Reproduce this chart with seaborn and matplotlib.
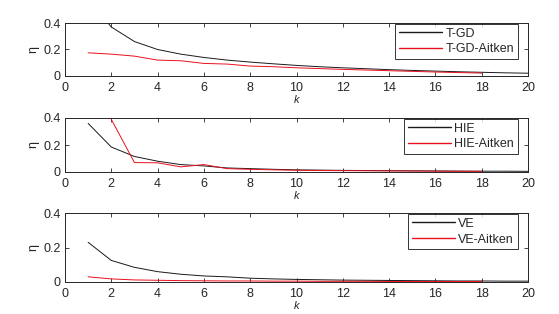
import numpy as np
import pandas as pd
import matplotlib
matplotlib.use("Agg")
import matplotlib.pyplot as plt
import seaborn as sns

k_full = list(range(1, 21))
k_aitken = list(range(1, 19))
k_hie_aitken = list(range(2, 19))

tgd = [0.58, 0.37, 0.26, 0.20, 0.165, 0.14, 0.12, 0.105, 0.092, 0.08, 0.07, 0.062,
       0.055, 0.048, 0.042, 0.037, 0.032, 0.028, 0.024, 0.021]
tgd_aitken = [0.175, 0.165, 0.15, 0.12, 0.115, 0.095, 0.09, 0.075, 0.07, 0.062, 0.056,
              0.05, 0.045, 0.04, 0.035, 0.03, 0.026, 0.022]

hie = [0.36, 0.185, 0.115, 0.08, 0.055, 0.045, 0.03, 0.025, 0.02, 0.016, 0.014, 0.012,
       0.011, 0.01, 0.009, 0.008, 0.007, 0.006, 0.006, 0.005]
hie_aitken = [0.39, 0.07, 0.068, 0.038, 0.055, 0.025, 0.02, 0.016, 0.013, 0.011, 0.01,
              0.009, 0.008, 0.007, 0.006, 0.005, 0.005]

ve = [0.23, 0.125, 0.085, 0.06, 0.045, 0.035, 0.03, 0.022, 0.018, 0.015, 0.013, 0.011,
      0.01, 0.009, 0.008, 0.007, 0.006, 0.006, 0.005, 0.005]
ve_aitken = [0.03, 0.018, 0.012, 0.01, 0.008, 0.007, 0.006, 0.006, 0.005, 0.005, 0.004,
             0.004, 0.004, 0.003, 0.003, 0.003, 0.003, 0.003]

panels = [
    ("T-GD", k_full, tgd, "T-GD-Aitken", k_aitken, tgd_aitken),
    ("HIE", k_full, hie, "HIE-Aitken", k_hie_aitken, hie_aitken),
    ("VE", k_full, ve, "VE-Aitken", k_aitken, ve_aitken),
]

sns.set_style("ticks")
plt.rcParams["font.family"] = ["Liberation Sans", "DejaVu Sans"]
plt.rcParams["xtick.direction"] = "in"
plt.rcParams["ytick.direction"] = "in"

W, H = 559, 314
fig = plt.figure(figsize=(W / 100, H / 100), dpi=100)

boxes = [(65, 23, 528, 76), (65, 118, 528, 172), (65, 213, 528, 282)]
BLACK, RED = "#1a1a1a", "#e8101c"

for (n1, k1, v1, n2, k2, v2), (l, t, r, b) in zip(panels, boxes):
    ax = fig.add_axes([l / W, 1 - b / H, (r - l) / W, (b - t) / H])
    df = pd.concat([
        pd.DataFrame({"k": k1, "eta": v1, "method": n1}),
        pd.DataFrame({"k": k2, "eta": v2, "method": n2}),
    ], ignore_index=True)
    sns.lineplot(data=df, x="k", y="eta", hue="method", hue_order=[n1, n2],
                 palette={n1: BLACK, n2: RED},
                 linewidth=0.7, ax=ax, legend=True)
    ax.set_xlim(0, 20)
    ax.set_ylim(0, 0.4)
    ax.set_xticks(range(0, 21, 2))
    ax.set_yticks([0, 0.2, 0.4])
    ax.set_yticklabels(["0", "0.2", "0.4"])
    ax.tick_params(labelsize=9, length=3, width=0.6, top=True, right=True)
    ax.tick_params(axis="x", pad=4)
    ax.tick_params(axis="y", pad=3)
    for s in ax.spines.values():
        s.set_linewidth(0.7)
    ax.set_xlabel("k", fontsize=8, style="italic", labelpad=1)
    ax.set_ylabel("η", fontsize=9, labelpad=3)
    leg = ax.legend(loc="upper right", bbox_to_anchor=(0.978, 0.985), fontsize=9,
                    frameon=True, fancybox=False, edgecolor="black", handlelength=3.4,
                    borderpad=0.3, labelspacing=0.3, handletextpad=0.3, borderaxespad=0)
    leg.get_frame().set_linewidth(0.7)
    for h, c in zip(leg.get_lines(), [BLACK, RED]):
        h.set_color(c)
        h.set_linewidth(1.0)

fig.savefig("out.png", dpi=100)
